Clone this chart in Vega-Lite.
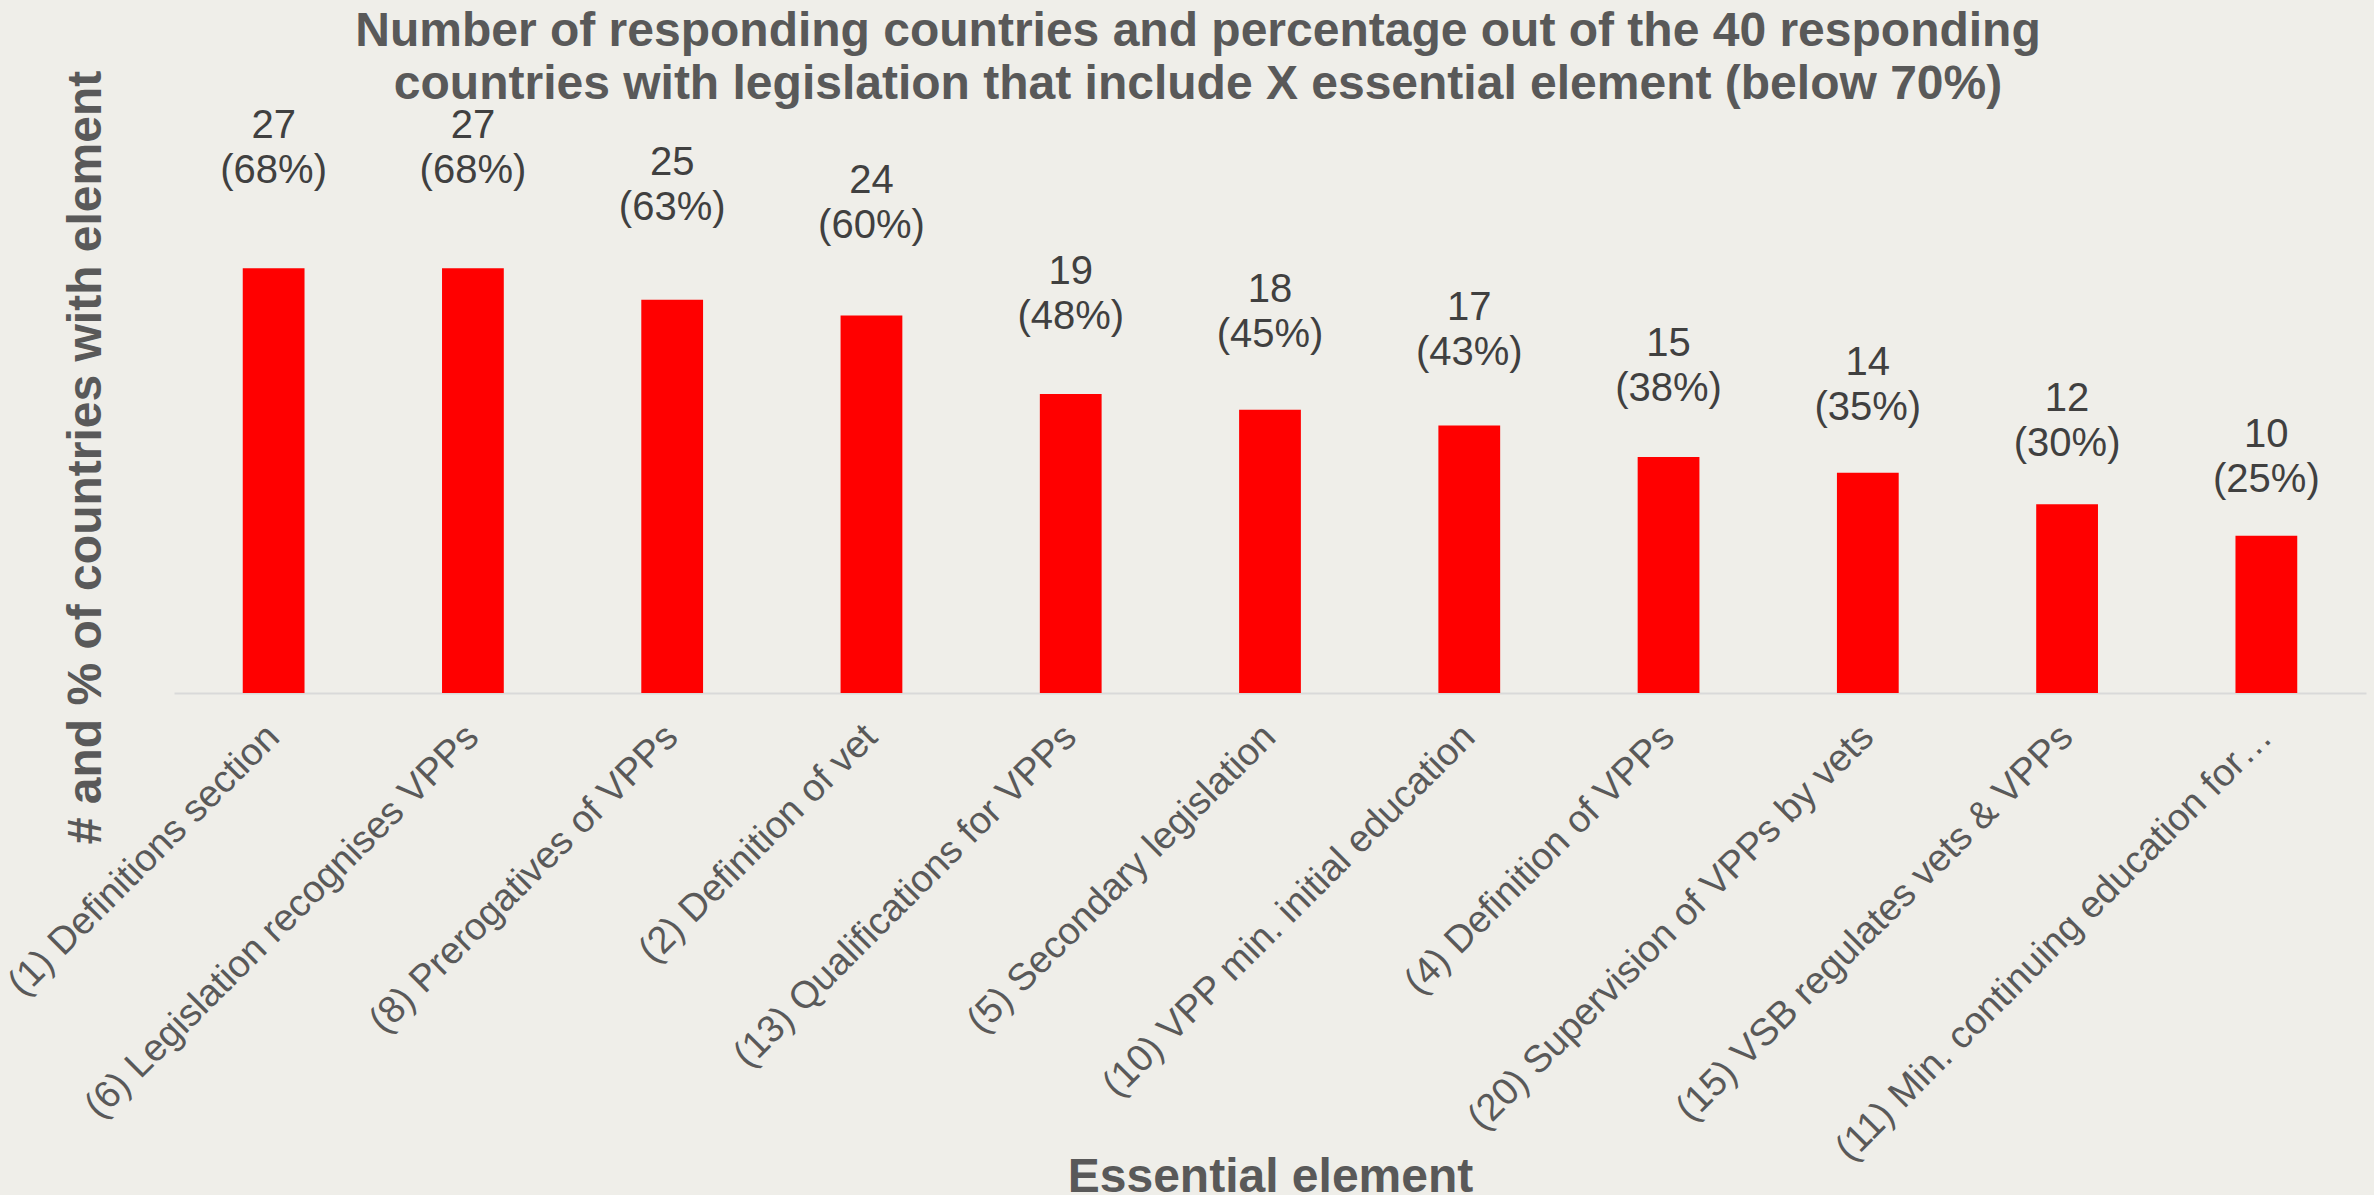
{
  "$schema": "https://vega.github.io/schema/vega-lite/v6.json",
  "autosize": "none",
  "width": 2192,
  "height": 472,
  "padding": {"left": 174, "top": 221, "right": 8, "bottom": 502},
  "background": "#EFEEE9",
  "title": {
    "text": ["Number of responding countries and percentage out of the 40 responding", "countries with legislation that include X essential element (below 70%)"],
    "font": "Liberation Sans",
    "fontSize": 48,
    "fontWeight": "bold",
    "color": "#595959",
    "anchor": "middle",
    "offset": 8,
    "lineHeight": 53,
    "dx": -72,
    "dy": 47
  },
  "data": {
    "values": [
      {"element": "(1) Definitions section", "n": 27, "pct": "(68%)"},
      {"element": "(6) Legislation recognises VPPs", "n": 27, "pct": "(68%)"},
      {"element": "(8) Prerogatives of VPPs", "n": 25, "pct": "(63%)"},
      {"element": "(2) Definition of vet", "n": 24, "pct": "(60%)"},
      {"element": "(13) Qualifications for VPPs", "n": 19, "pct": "(48%)"},
      {"element": "(5) Secondary legislation", "n": 18, "pct": "(45%)"},
      {"element": "(10) VPP min. initial education", "n": 17, "pct": "(43%)"},
      {"element": "(4) Definition of VPPs", "n": 15, "pct": "(38%)"},
      {"element": "(20) Supervision of VPPs by vets", "n": 14, "pct": "(35%)"},
      {"element": "(15) VSB regulates vets & VPPs", "n": 12, "pct": "(30%)"},
      {"element": "(11) Min. continuing education for…", "n": 10, "pct": "(25%)"}
    ]
  },
  "encoding": {
    "x": {
      "field": "element",
      "type": "nominal",
      "sort": null,
      "scale": {"paddingInner": 0.69, "paddingOuter": 0.345},
      "axis": {
        "title": "Essential element",
        "titleFont": "Liberation Sans",
        "titleFontSize": 48,
        "titleFontWeight": "bold",
        "titleColor": "#595959",
        "titleY": 498,
        "titleBaseline": "alphabetic",
        "labelAngle": -45,
        "labelAlign": "right",
        "labelBaseline": "middle",
        "labelFont": "Liberation Sans",
        "labelFontSize": 38,
        "labelColor": "#595959",
        "labelPadding": 38,
        "labelLimit": 1000,
        "ticks": false,
        "domainColor": "#D9D9D9",
        "domainWidth": 2
      }
    }
  },
  "layer": [
    {
      "mark": {"type": "bar", "color": "#FF0000"},
      "encoding": {
        "y": {
          "field": "n",
          "type": "quantitative",
          "scale": {"domain": [0, 30], "nice": false},
          "axis": {
            "title": "# and % of countries with element",
            "titleFont": "Liberation Sans",
            "titleFontSize": 48,
            "titleFontWeight": "bold",
            "titleColor": "#595959",
            "titlePadding": 64,
            "labels": false,
            "ticks": false,
            "domain": false,
            "grid": false
          }
        }
      }
    },
    {
      "encoding": {
        "y": {
          "field": "n",
          "type": "quantitative",
          "scale": {"domain": [0, 25.98], "nice": false},
          "axis": null
        }
      },
      "layer": [
        {
          "mark": {"type": "text", "font": "Liberation Sans", "fontSize": 40, "color": "#404040", "baseline": "middle", "dy": -76},
          "encoding": {"text": {"field": "n", "type": "quantitative"}}
        },
        {
          "mark": {"type": "text", "font": "Liberation Sans", "fontSize": 40, "color": "#404040", "baseline": "middle", "dy": -31},
          "encoding": {"text": {"field": "pct", "type": "nominal"}}
        }
      ]
    }
  ],
  "resolve": {"scale": {"y": "independent"}},
  "config": {"view": {"stroke": null}}
}
